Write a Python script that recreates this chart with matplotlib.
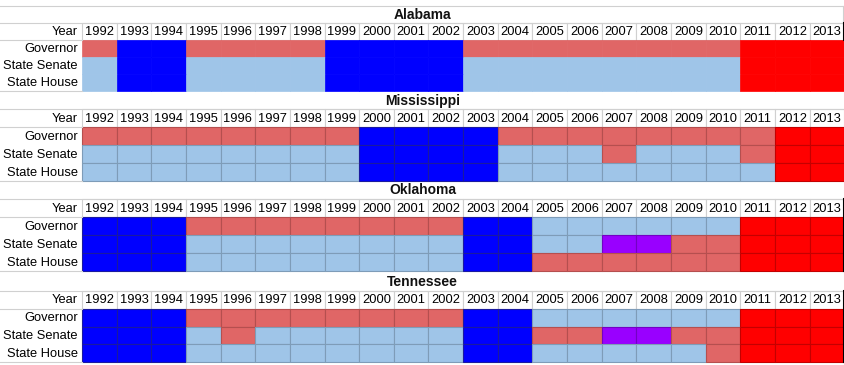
import matplotlib.pyplot as plt

plt.rcParams['font.family'] = ['Liberation Sans', 'DejaVu Sans']

years = list(range(1992, 2014))
states = ['Alabama', 'Mississippi', 'Oklahoma', 'Tennessee']
offices = ['Governor', 'State Senate', 'State House']

# r = light red, b = light blue, B = blue, R = red, P = purple
alabama = ['rBBrrrrBBBBrrrrrrrrRRR',
           'bBBbbbbBBBBbbbbbbbbRRR',
           'bBBbbbbBBBBbbbbbbbbRRR']
mississippi = ['rrrrrrrrBBBBrrrrrrrrRR',
               'bbbbbbbbBBBBbbbrbbbrRR',
               'bbbbbbbbBBBBbbbbbbbbRR']
oklahoma = ['BBBrrrrrrrrBBbbbbbbRRR',
            'BBBbbbbbbbbBBbbPPrrRRR',
            'BBBbbbbbbbbBBrrrrrrRRR']
tennessee = ['BBBrrrrrrrrBBbbbbbbRRR',
             'BBBbrbbbbbbBBrrPPrrRRR',
             'BBBbbbbbbbbBBbbbbbrRRR']
grids = [alabama, mississippi, oklahoma, tennessee]

fill = {'r': '#E06666', 'b': '#9FC5E8', 'B': '#0000FF', 'R': '#FF0000', 'P': '#9900FF'}
edge = {'r': '#B54F4F', 'b': '#7E9CB8', 'B': '#1A1AA0', 'R': '#C40000', 'P': '#7300C4'}

# layout (pixels)
W, H = 845, 365
LABEL_W = 82
COL_W = 34.65
block_tops = [6, 91, 181, 271]
title_h = [17, 18, 18, 20]
row_h = [17, 18, 18, 17.8]
grey = '#D0D0D0'

fig = plt.figure(figsize=(W / 100, H / 100), dpi=100)
ax = fig.add_axes([0, 0, 1, 1])
ax.set_xlim(0, W)
ax.set_ylim(H, 0)
ax.axis('off')

x_left = [LABEL_W + i * COL_W for i in range(len(years))]
x_right = LABEL_W + len(years) * COL_W

ax.plot([0, W - 1], [block_tops[0], block_tops[0]], color=grey, lw=0.8)
ax.plot([W - 1.5, W - 1.5], [block_tops[0], block_tops[0] + title_h[0]], color=grey, lw=0.8)

for s, (state, grid) in enumerate(zip(states, grids)):
    top = block_tops[s]
    th = title_h[s]
    rh = row_h[s]
    ax.text(W / 2, top + th / 2 + 0.5, state, ha='center', va='center',
            fontsize=10, fontweight='bold', color='#111111')

    # year row
    y_year = top + th
    ax.bar(x_left, rh, width=COL_W, bottom=y_year, align='edge',
           color='white', edgecolor=grey, linewidth=0.8)
    ax.plot([0, x_right], [y_year, y_year], color=grey, lw=0.8)
    ax.plot([0, LABEL_W], [y_year + rh, y_year + rh], color=grey, lw=0.8)
    ax.text(LABEL_W - 4, y_year + rh / 2 + 0.5, 'Year', ha='right', va='center', fontsize=9.3)
    for x, yr in zip(x_left, years):
        ax.text(x + COL_W / 2, y_year + rh / 2 + 0.5, str(yr), ha='center', va='center', fontsize=9.3)

    # office rows
    for k, (office, codes) in enumerate(zip(offices, grid)):
        y = y_year + rh * (k + 1)
        colors = [fill[c] for c in codes]
        if state == 'Alabama':
            ax.bar(x_left, rh, width=COL_W, bottom=y, align='edge',
                   color=colors, edgecolor=colors, linewidth=0.5)
        else:
            ax.bar(x_left, rh, width=COL_W, bottom=y, align='edge',
                   color=colors, edgecolor=[edge[c] for c in codes], linewidth=0.8)
        ax.text(LABEL_W - 4, y + rh / 2 + 0.5, office, ha='right', va='center', fontsize=9.3)

    y_bottom = y_year + rh * 4
    ax.plot([0, LABEL_W], [y_bottom, y_bottom], color=grey, lw=0.8)
    if state == 'Alabama':
        ax.plot([x_right - 0.5, x_right - 0.5], [y_year, y_year + rh], color='black', lw=1.5)
    elif state != 'Mississippi':
        ax.plot([x_right - 0.5, x_right - 0.5], [y_year, y_bottom], color='black', lw=1.5)

fig.savefig('out.png', dpi=100)
